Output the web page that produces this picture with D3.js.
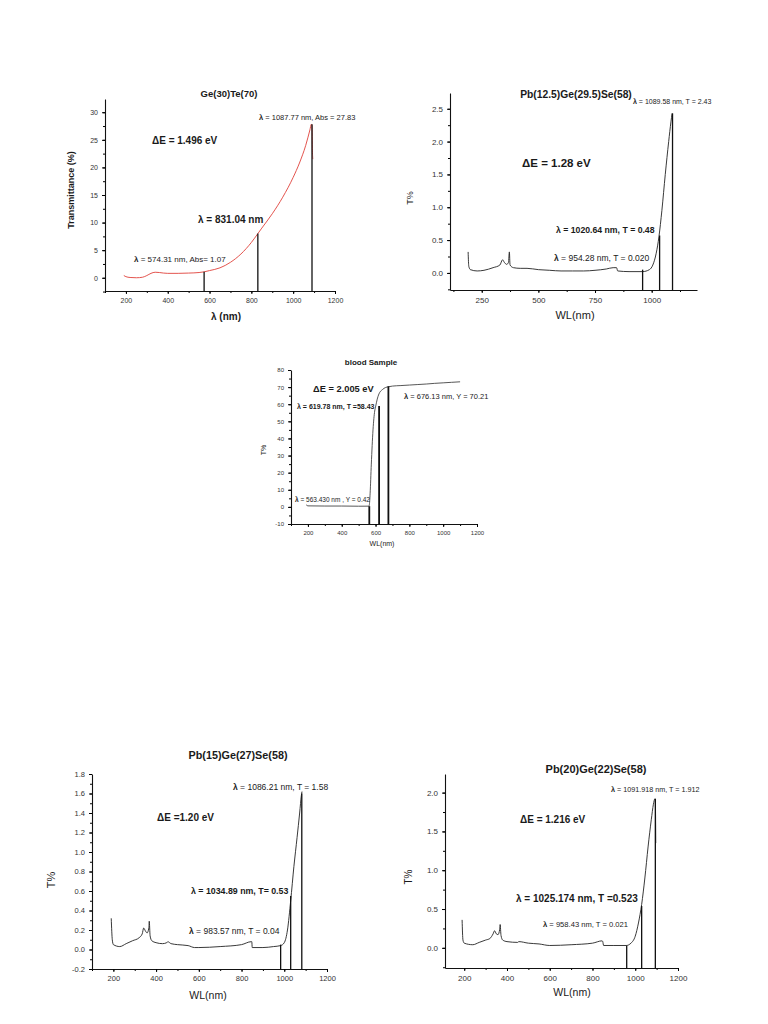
<!DOCTYPE html>
<html>
<head>
<meta charset="utf-8">
<script src="https://cdn.jsdelivr.net/npm/d3@7"></script>
<style>
  body { margin: 0; background: #fff; }
  svg { display: block; font-family: "Liberation Sans", Arial, sans-serif; }
</style>
</head>
<body>
<svg id="fig" width="768" height="1024"></svg>
<script>
// ---- Ge(30)Te(70) ----
const geteWl = [190, 200, 220, 250, 280, 300, 320, 340, 360, 380, 400, 450, 500, 550, 574, 600, 650, 700, 750, 800, 831, 850, 900, 950, 1000, 1030, 1060, 1080, 1087, 1090, 1092, 1094];
const geteT  = [0.4, 0.2, 0.05, 0, 0.1, 0.4, 0.8, 1.0, 0.95, 0.85, 0.8, 0.8, 0.85, 0.95, 1.07, 1.3, 1.8, 2.8, 4.3, 6.4, 8.0, 9.0, 11.6, 14.6, 18.2, 20.8, 24.0, 26.8, 27.83, 27.5, 23, 21.5];
const geteMarkX = [574, 831, 1090];
const geteMarkY = [1.07, 8.0, 27.83];

// ---- Pb(12.5)Ge(29.5)Se(58) ----
const pb125Wl = [190, 193, 200, 230, 260, 300, 330, 342, 350, 360, 368, 372, 375, 390, 420, 450, 500, 550, 600, 650, 700, 750, 800, 830, 845, 850, 900, 960, 990, 1005, 1020, 1032, 1045, 1060, 1075, 1085, 1090];
const pb125T  = [0.32, 0.1, 0.05, 0.03, 0.04, 0.08, 0.12, 0.2, 0.16, 0.13, 0.16, 0.32, 0.12, 0.08, 0.07, 0.07, 0.05, 0.04, 0.03, 0.03, 0.03, 0.04, 0.06, 0.08, 0.08, 0.03, 0.02, 0.02, 0.05, 0.12, 0.3, 0.55, 0.95, 1.5, 2.0, 2.3, 2.43];
const pb125MarkX = [960, 1035, 1092];
const pb125MarkY = [0.05, 0.57, 2.43];

// ---- blood Sample ----
const bloodWl = [190, 200, 300, 400, 500, 560, 563, 568, 575, 585, 595, 600, 610, 620, 640, 660, 676, 700, 750, 800, 850, 900, 950, 1000, 1050, 1100];
const bloodT  = [1.2, 0.6, 0.5, 0.5, 0.4, 0.42, 1, 8, 25, 45, 56, 58.4, 63, 66, 68.5, 69.8, 70.2, 70.6, 70.9, 71.2, 71.5, 71.8, 72.2, 72.5, 72.8, 73.1];
const bloodMarkX = [563, 621, 676];
const bloodMarkY = [0.42, 59, 70.5];

// ---- Pb(15)Ge(27)Se(58) ----
const pb15Wl = [190, 195, 200, 230, 260, 290, 320, 335, 342, 350, 358, 366, 368, 372, 380, 400, 430, 450, 455, 470, 500, 550, 580, 600, 700, 800, 845, 848, 850, 900, 950, 983, 1000, 1015, 1030, 1045, 1060, 1072, 1080, 1083];
const pb15T  = [0.32, 0.1, 0.05, 0.03, 0.06, 0.09, 0.12, 0.16, 0.22, 0.19, 0.17, 0.22, 0.29, 0.14, 0.09, 0.07, 0.06, 0.07, 0.08, 0.06, 0.05, 0.04, 0.02, 0.02, 0.03, 0.05, 0.08, 0.08, 0.02, 0.02, 0.03, 0.04, 0.07, 0.2, 0.5, 0.85, 1.15, 1.4, 1.58, 1.62];
const pb15MarkX = [983, 1030, 1082];
const pb15MarkY = [0.05, 0.55, 1.6];

// ---- Pb(20)Ge(22)Se(58) ----
const pb20Wl = [190, 194, 200, 240, 270, 300, 320, 335, 342, 350, 358, 366, 368, 372, 380, 400, 450, 455, 500, 550, 600, 700, 800, 845, 848, 852, 900, 958, 980, 1000, 1015, 1030, 1045, 1060, 1075, 1085, 1092, 1094, 1096];
const pb20T  = [0.36, 0.1, 0.06, 0.04, 0.07, 0.1, 0.12, 0.18, 0.22, 0.18, 0.17, 0.24, 0.3, 0.16, 0.1, 0.08, 0.07, 0.08, 0.06, 0.05, 0.03, 0.04, 0.06, 0.09, 0.08, 0.03, 0.03, 0.03, 0.06, 0.15, 0.32, 0.56, 0.9, 1.3, 1.65, 1.85, 1.92, 1.9, 1.35];
const pb20MarkX = [960, 1030, 1094];
const pb20MarkY = [0.03, 0.54, 1.92];

// plain hyphen for negatives, like the original
const fmt1 = v => d3.format(".1f")(v).replace("\u2212", "-");
const fmt0 = v => d3.format("d")(v).replace("\u2212", "-");

const panels = [
  {
    box: [105, 99, 335, 291], xDomain: [100, 1200], yDomain: [-2.4, 32.4],
    xTicks: d3.range(200, 1201, 200), xMinor: d3.range(100, 1201, 100),
    yTicks: d3.range(0, 31, 5), yMinor: d3.range(-2.5, 32.5, 2.5), yFmt: fmt0, tickSize: 7,
    wl: geteWl, t: geteT, markX: geteMarkX, markY: geteMarkY, color: "#e0413a", markW: 1.3,
    title: { text: "Ge(30)Te(70)", x: 229, y: 97, size: 9.5 },
    xLabel: { text: "λ (nm)", x: 226, y: 320, size: 10, bold: true },
    yLabel: { text: "Transmittance (%)", x: 72, y: 190, size: 9, bold: true },
    notes: [
      { text: "λ = 1087.77 nm, Abs = 27.83", x: 259, y: 120, size: 7.5 },
      { text: "ΔE = 1.496 eV", x: 152, y: 143.5, size: 10, bold: true },
      { text: "λ = 831.04 nm", x: 198, y: 223, size: 10, bold: true },
      { text: "λ = 574.31 nm, Abs= 1.07", x: 134, y: 262, size: 8 }
    ]
  },
  {
    box: [450, 93, 697, 290], xDomain: [110, 1200], yDomain: [-0.26, 2.74],
    xTicks: [250, 500, 750, 1000], xMinor: d3.range(125, 1201, 125),
    yTicks: d3.range(0, 2.51, 0.5), yMinor: d3.range(-0.25, 2.74, 0.25), yFmt: fmt1, tickSize: 8,
    wl: pb125Wl, t: pb125T, markX: pb125MarkX, markY: pb125MarkY, color: "#222", markW: 1.3,
    title: { text: "Pb(12.5)Ge(29.5)Se(58)", x: 576, y: 97.5, size: 10.3 },
    xLabel: { text: "WL(nm)", x: 575, y: 319, size: 11 },
    yLabel: { text: "T%", x: 411, y: 198, size: 9 },
    notes: [
      { text: "λ = 1089.58 nm, T = 2.43", x: 633, y: 104, size: 7 },
      { text: "ΔE = 1.28 eV", x: 522, y: 166.5, size: 11.5, bold: true },
      { text: "λ = 1020.64 nm, T = 0.48", x: 556, y: 233, size: 8.7, bold: true },
      { text: "λ = 954.28 nm, T = 0.020", x: 554, y: 260.5, size: 8.5 }
    ]
  },
  {
    box: [291, 370, 477, 524], xDomain: [100, 1200], yDomain: [-10, 80],
    xTicks: d3.range(200, 1201, 200), xMinor: d3.range(100, 1201, 100),
    yTicks: d3.range(-10, 81, 10), yMinor: d3.range(-10, 81, 5), yFmt: fmt0, tickSize: 6,
    wl: bloodWl, t: bloodT, markX: bloodMarkX, markY: bloodMarkY, color: "#444", markW: 1.8,
    title: { text: "blood Sample", x: 371, y: 364.5, size: 8 },
    xLabel: { text: "WL(nm)", x: 382, y: 546, size: 7 },
    yLabel: { text: "T%", x: 264, y: 450, size: 7 },
    notes: [
      { text: "ΔE = 2.005 eV", x: 313, y: 391.5, size: 9.3, bold: true },
      { text: "λ = 619.78 nm, T =58.43", x: 297, y: 409, size: 7, bold: true },
      { text: "λ = 676.13 nm, Y = 70.21", x: 404, y: 398.5, size: 7.5 },
      { text: "λ = 563.430 nm , Y = 0.42", x: 295, y: 502, size: 6.5 }
    ]
  },
  {
    box: [92, 774, 327, 969], xDomain: [100, 1200], yDomain: [-0.2, 1.8],
    xTicks: d3.range(200, 1201, 200), xMinor: d3.range(100, 1201, 100),
    yTicks: d3.range(-0.2, 1.81, 0.2), yMinor: d3.range(-0.2, 1.81, 0.1), yFmt: fmt1, tickSize: 7.5,
    wl: pb15Wl, t: pb15T, markX: pb15MarkX, markY: pb15MarkY, color: "#222", markW: 1.3,
    title: { text: "Pb(15)Ge(27)Se(58)", x: 238, y: 759, size: 10.8 },
    xLabel: { text: "WL(nm)", x: 208, y: 999, size: 10.5 },
    yLabel: { text: "T%", x: 52, y: 880, size: 11 },
    notes: [
      { text: "λ = 1086.21 nm, T = 1.58", x: 233, y: 790, size: 8.5 },
      { text: "ΔE =1.20 eV", x: 157, y: 821, size: 10, bold: true },
      { text: "λ = 1034.89 nm, T= 0.53", x: 191, y: 894, size: 8.8, bold: true },
      { text: "λ = 983.57 nm, T = 0.04", x: 189, y: 934, size: 8.5 }
    ]
  },
  {
    box: [445, 774, 678, 968], xDomain: [110, 1200], yDomain: [-0.26, 2.24],
    xTicks: d3.range(200, 1201, 200), xMinor: d3.range(100, 1201, 100).filter(v => v >= 110),
    yTicks: d3.range(0, 2.01, 0.5), yMinor: d3.range(-0.25, 2.24, 0.25), yFmt: fmt1, tickSize: 8,
    wl: pb20Wl, t: pb20T, markX: pb20MarkX, markY: pb20MarkY, color: "#222", markW: 1.3,
    title: { text: "Pb(20)Ge(22)Se(58)", x: 596, y: 773, size: 11 },
    xLabel: { text: "WL(nm)", x: 572, y: 996, size: 10.5 },
    yLabel: { text: "T%", x: 409, y: 877, size: 10 },
    notes: [
      { text: "λ = 1091.918 nm, T = 1.912", x: 611, y: 792, size: 7.2 },
      { text: "ΔE = 1.216 eV", x: 520, y: 823, size: 10, bold: true },
      { text: "λ = 1025.174 nm, T =0.523", x: 516, y: 902, size: 10, bold: true },
      { text: "λ = 958.43 nm, T = 0.021", x: 543, y: 927, size: 7.6 }
    ]
  }
];

const svg = d3.select("#fig");

function addText(g, o, extra) {
  const t = g.append("text")
    .attr("x", o.x).attr("y", o.y)
    .attr("font-size", o.size + "px")
    .attr("fill", "#1a1a1a");
  if (o.bold) t.attr("font-weight", "bold");
  if (extra) extra(t);
  // lambda glyph is always drawn bold, like the original symbol font
  if (o.text.startsWith("λ")) {
    t.append("tspan").attr("font-weight", "bold").text("λ");
    t.append("tspan").text(o.text.slice(1));
  } else {
    t.text(o.text);
  }
  return t;
}

function drawPanel(p) {
  const [x0, y0, x1, y1] = p.box;
  const g = svg.append("g");

  const x = d3.scaleLinear().domain(p.xDomain).range([x0, x1]);
  const y = d3.scaleLinear().domain(p.yDomain).range([y1, y0]);

  // minor ticks
  g.append("g").attr("transform", `translate(0,${y1})`)
    .call(d3.axisBottom(x).tickValues(p.xMinor).tickSize(2).tickFormat(""))
    .call(a => a.select(".domain").remove());
  g.append("g").attr("transform", `translate(${x0},0)`)
    .call(d3.axisLeft(y).tickValues(p.yMinor).tickSize(2).tickFormat(""))
    .call(a => a.select(".domain").remove());

  // major axes
  const xa = g.append("g").attr("transform", `translate(0,${y1})`)
    .call(d3.axisBottom(x).tickValues(p.xTicks).tickSize(3).tickSizeOuter(0).tickPadding(4).tickFormat(fmt0));
  const ya = g.append("g").attr("transform", `translate(${x0},0)`)
    .call(d3.axisLeft(y).tickValues(p.yTicks).tickSize(3).tickSizeOuter(0).tickPadding(4).tickFormat(p.yFmt));
  [xa, ya].forEach(a => {
    a.selectAll("text").attr("font-size", p.tickSize + "px").attr("fill", "#333")
      .attr("font-family", '"Liberation Sans", Arial, sans-serif');
    a.select(".domain").attr("stroke", "#111").attr("stroke-width", 1.1);
  });

  // spectrum
  const line = d3.line().x((d, i) => x(p.wl[i])).y(d => y(d)).curve(d3.curveMonotoneX);
  g.append("path").datum(p.t)
    .attr("d", line)
    .attr("fill", "none")
    .attr("stroke", p.color)
    .attr("stroke-width", 0.9);

  // drop lines at the marked wavelengths
  g.selectAll(".mark").data(p.markX).join("line")
    .attr("class", "mark")
    .attr("x1", d => x(d)).attr("x2", d => x(d))
    .attr("y1", y1)
    .attr("y2", (d, i) => y(p.markY[i]))
    .attr("stroke", "#111")
    .attr("stroke-width", p.markW);

  addText(g, Object.assign({ bold: true }, p.title), t => t.attr("text-anchor", "middle"));
  addText(g, p.xLabel, t => t.attr("text-anchor", "middle"));
  addText(g, Object.assign({}, p.yLabel, { x: 0, y: 0 }), t =>
    t.attr("text-anchor", "middle")
     .attr("dominant-baseline", "middle")
     .attr("transform", `translate(${p.yLabel.x},${p.yLabel.y}) rotate(-90)`));
  p.notes.forEach(n => addText(g, n));
}

panels.forEach(drawPanel);
</script>
</body>
</html>
